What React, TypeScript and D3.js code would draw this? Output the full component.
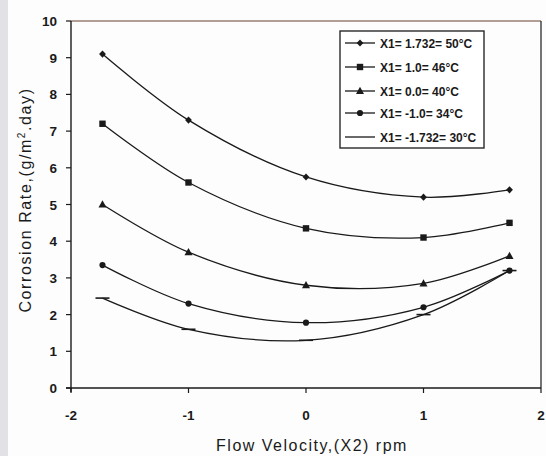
import React from "react";
import * as d3 from "d3";

// Flow velocity levels (coded X2)
const velocities = [-1.732, -1, 0, 1, 1.732];

// Corrosion rate (g/m².day) for each temperature level X1
const rate50C = [9.1, 7.3, 5.75, 5.2, 5.4];
const rate46C = [7.2, 5.6, 4.35, 4.1, 4.5];
const rate40C = [5.0, 3.7, 2.8, 2.85, 3.6];
const rate34C = [3.35, 2.3, 1.78, 2.2, 3.2];
const rate30C = [2.45, 1.6, 1.3, 2.0, 3.2];

const seriesLabels = [
  "X1= 1.732= 50°C",
  "X1= 1.0= 46°C",
  "X1= 0.0= 40°C",
  "X1= -1.0= 34°C",
  "X1= -1.732= 30°C",
];
const markerKinds = ["diamond", "square", "triangle", "circle", "dash"];

const xTicks = [-2, -1, 0, 1, 2];
const yTicks = [0, 1, 2, 3, 4, 5, 6, 7, 8, 9, 10];

const W = 546;
const H = 456;
const plot = { left: 71, right: 541, top: 21, bottom: 388 };
const font = "'Liberation Sans', Arial, sans-serif";
const ink = "#1a1a1a";

function Marker({ kind, x, y }: { kind: string; x: number; y: number }) {
  if (kind === "diamond")
    return <path d={`M${x},${y - 3.6}L${x + 3.4},${y}L${x},${y + 3.6}L${x - 3.4},${y}Z`} fill={ink} />;
  if (kind === "square")
    return <rect x={x - 3.2} y={y - 3.2} width={6.4} height={6.4} fill={ink} />;
  if (kind === "triangle")
    return <path d={`M${x},${y - 4.2}L${x + 4},${y + 3}L${x - 4},${y + 3}Z`} fill={ink} />;
  if (kind === "circle") return <circle cx={x} cy={y} r={3.1} fill={ink} />;
  if (kind === "dash")
    return <line x1={x - 7} x2={x + 7} y1={y} y2={y} stroke={ink} strokeWidth={1.6} />;
  return null;
}

export default function App() {
  const x = d3.scaleLinear().domain([-2, 2]).range([plot.left, plot.right]);
  const y = d3.scaleLinear().domain([0, 10]).range([plot.bottom, plot.top]);
  const series = [rate50C, rate46C, rate40C, rate34C, rate30C];

  const line = d3
    .line<number>()
    .x((_, i) => x(velocities[i]))
    .y((v) => y(v))
    .curve(d3.curveCatmullRom.alpha(0.5));

  const legend = { x: 340, y: 31, w: 144, h: 117 };
  const rowY = [43, 67, 91, 113, 137];

  return (
    <svg
      width={W}
      height={H}
      style={{ position: "absolute", left: 0, top: 0, background: "#fff" }}
      fontFamily={font}
    >
      <rect x={0} y={0} width={W} height={H} fill="#fdfdfd" />
      <rect x={0} y={0} width={8} height={H} fill="#e2e2e6" />

      {/* frame */}
      <line x1={plot.left} x2={plot.right} y1={plot.top} y2={plot.top} stroke="#6a4030" strokeWidth={1.2} />
      <line x1={plot.right} x2={plot.right} y1={plot.top} y2={plot.bottom} stroke={ink} strokeWidth={1.2} />
      <line x1={plot.left} x2={plot.left} y1={plot.top} y2={plot.bottom + 4} stroke={ink} strokeWidth={1.4} />
      <line x1={plot.left - 5} x2={plot.right} y1={plot.bottom} y2={plot.bottom} stroke={ink} strokeWidth={1.4} />

      {/* y axis */}
      {yTicks.map((t) => (
        <g key={`y${t}`}>
          <line x1={plot.left - 5} x2={plot.left} y1={y(t)} y2={y(t)} stroke={ink} strokeWidth={1.2} />
          <text x={57} y={y(t) + 5} textAnchor="end" fontSize={13.5} fontWeight="bold" fill={ink}>
            {t}
          </text>
        </g>
      ))}

      {/* x axis */}
      {xTicks.map((t) => (
        <g key={`x${t}`}>
          <line x1={x(t)} x2={x(t)} y1={plot.bottom} y2={plot.bottom + 5} stroke={ink} strokeWidth={1.2} />
          <text x={x(t)} y={420} textAnchor="middle" fontSize={13.5} fontWeight="bold" fill={ink}>
            {t}
          </text>
        </g>
      ))}

      <text
        transform={`translate(31,200) rotate(-90)`}
        textAnchor="middle"
        fontSize={16}
        letterSpacing={1.6}
        fill={ink}
      >
        Corrosion Rate,(g/m<tspan dy={-6} fontSize={10}>2</tspan>
        <tspan dy={6}>.day)</tspan>
      </text>
      <text x={312} y={451} textAnchor="middle" fontSize={16} letterSpacing={1.5} fill={ink}>
        Flow Velocity,(X2) rpm
      </text>

      {/* series */}
      {series.map((vals, si) => (
        <g key={`s${si}`}>
          <path d={line(vals) ?? ""} fill="none" stroke={ink} strokeWidth={1.3} />
          {vals.map((v, i) => (
            <Marker key={i} kind={markerKinds[si]} x={x(velocities[i])} y={y(v)} />
          ))}
        </g>
      ))}

      {/* legend */}
      <rect x={legend.x} y={legend.y} width={legend.w} height={legend.h} fill="#fff" stroke={ink} strokeWidth={1.3} />
      {seriesLabels.map((label, i) => (
        <g key={`l${i}`}>
          <line x1={345} x2={375} y1={rowY[i]} y2={rowY[i]} stroke={ink} strokeWidth={1.3} />
          <Marker kind={markerKinds[i] === "dash" ? "none" : markerKinds[i]} x={360} y={rowY[i]} />
          <text x={380} y={rowY[i] + 4.5} fontSize={12} fontWeight="bold" fill={ink}>
            {label}
          </text>
        </g>
      ))}
    </svg>
  );
}
